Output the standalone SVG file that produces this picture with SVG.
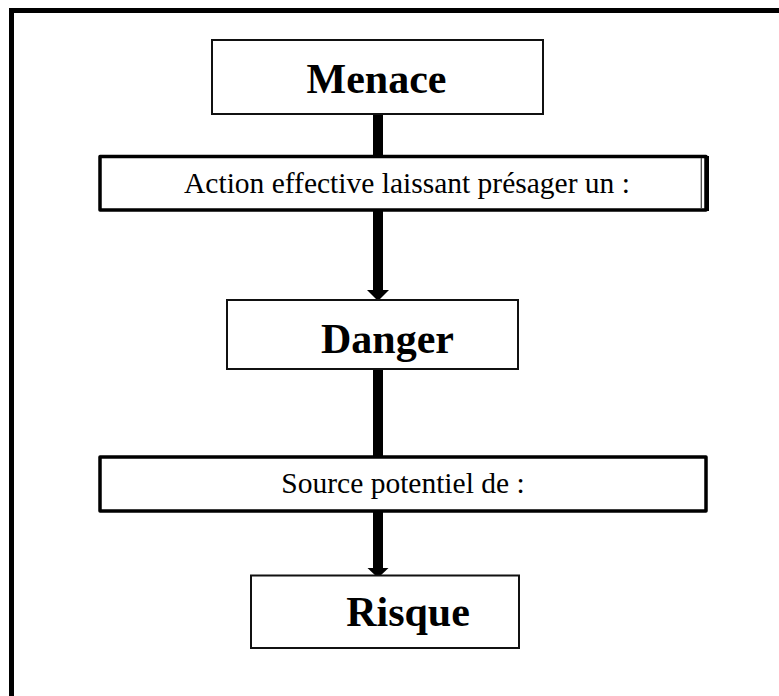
<svg xmlns="http://www.w3.org/2000/svg" width="779" height="696" viewBox="0 0 779 696">
<style>
.bold{font-family:"Liberation Serif","Times New Roman",serif;font-weight:bold;font-size:42px;fill:#000;text-anchor:middle}
.reg{font-family:"Liberation Serif","Times New Roman",serif;font-size:29.5px;fill:#000;text-anchor:middle}
.thin{fill:#fff;stroke:#111;stroke-width:2}
.thick{fill:#fff;stroke:#000;stroke-width:3.5;stroke-linejoin:round}
.shaft{stroke:#000;stroke-width:10;fill:none}
</style>
<rect width="779" height="696" fill="#fff"/>
<g id="frame" fill="none" stroke="#000" stroke-width="5">
<path d="M11.5 696 V10.5 H779"/>
</g>
<g id="connectors">
<line class="shaft" x1="378" y1="110" x2="378" y2="157"/>
<line class="shaft" x1="378" y1="209" x2="378" y2="291"/>
<polygon points="367,290 389,290 378,301" fill="#000"/>
<line class="shaft" x1="378" y1="367" x2="378" y2="458"/>
<line class="shaft" x1="378" y1="510" x2="378" y2="569"/>
<polygon points="367.5,568 388.5,568 378,578" fill="#000"/>
</g>
<g id="menace">
<rect class="thin" x="212" y="40" width="331" height="74" stroke="#333"/>
<text class="bold" x="376.5" y="93">Menace</text>
</g>
<g id="action">
<rect class="thick" x="100" y="156.5" width="606" height="53.5"/>
<line x1="701.3" y1="158" x2="701.3" y2="208.5" stroke="#444" stroke-width="1.3"/>
<line x1="707" y1="156" x2="707" y2="211" stroke="#000" stroke-width="4"/>
<text class="reg" x="407" y="193">Action effective laissant présager un :</text>
</g>
<g id="danger">
<rect class="thin" x="227" y="300" width="291" height="69"/>
<text class="bold" x="387.5" y="353">Danger</text>
</g>
<g id="source">
<rect class="thick" x="100" y="457" width="606" height="54"/>
<text class="reg" x="403" y="493">Source potentiel de :</text>
</g>
<g id="risque">
<rect class="thin" x="251" y="575.5" width="268" height="72.5"/>
<text class="bold" x="408" y="626">Risque</text>
</g>
</svg>
